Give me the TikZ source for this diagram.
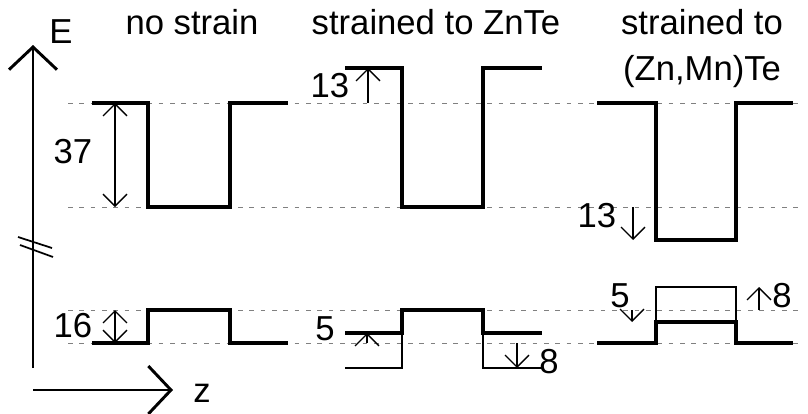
\documentclass[tikz,border=0pt]{standalone}
\usepackage{fontspec}
\setmainfont{Liberation Sans}
\usetikzlibrary{arrows.meta,positioning}

\begin{document}
\begin{tikzpicture}[x=0.75pt, y=-0.75pt]
\tikzstyle{band}=[line width=2.4pt, line join=miter]
\tikzstyle{thinband}=[line width=1pt]
\tikzstyle{level}=[gray, line width=0.7pt, dash pattern=on 3.5pt off 5pt]
\tikzstyle{axis}=[line width=2.2pt, -{Straight Barb[length=17pt, width=36pt]}]
\tikzstyle{dimarrow}=[line width=1pt, -{Straight Barb[length=9pt, width=18pt]}]
\tikzstyle{dimboth}=[line width=1pt, {Straight Barb[length=9pt, width=18pt]}-{Straight Barb[length=9pt, width=18pt]}]
\tikzstyle{lbl}=[anchor=base, inner sep=0pt, font=\fontsize{26}{30}\selectfont]
  \useasboundingbox (0,0) rectangle (808,414);
  % dashed reference levels
  \foreach \y in {103,207,310,343}
    \draw[level] (68,\y) -- (800,\y);
  % axes
  \coordinate (eorig) at (33,368);
  \coordinate (etop) at (33,45);
  \coordinate (zorig) at (33,390);
  \coordinate (zend) at (173,390);
  \path (eorig) edge [axis] (etop)
        (zorig) edge [axis] (zend);
  \draw[line width=1.3pt] (18,237) -- (52,248) (20,245) -- (53,257);
  \node[lbl] (elabel) at (61,43) {E};
  \node[lbl] (zlabel) at (202,402) {z};
  % no strain
  \node[lbl] (title1) at (192,34) {no strain};
  \draw[band] (92,103) -- (148,103) -- (148,207) -- (230,207) -- (230,103) -- (288,103);
  \draw[band] (92,343) -- (148,343) -- (148,310) -- (230,310) -- (230,343) -- (288,343);
  \coordinate (cb1top) at (115,103);
  \coordinate (cb1bot) at (115,207);
  \coordinate (vb1top) at (115,310);
  \coordinate (vb1bot) at (115,343);
  \path (cb1top) edge [dimboth] (cb1bot)
        (vb1top) edge [dimboth] (vb1bot);
  \node[lbl] (gap37) at (73,163) {37};
  \node[lbl] (gap16) at (73,337) {16};
  % strained to ZnTe
  \node[lbl] (title2) at (436,34) {strained to ZnTe};
  \draw[band] (345,68) -- (402,68) -- (402,207) -- (483,207) -- (483,68) -- (542,68);
  \draw[band] (345,333) -- (402,333) -- (402,310) -- (483,310) -- (483,333) -- (542,333);
  \draw[thinband] (345,368) -- (402,368) -- (402,333);
  \draw[thinband] (483,333) -- (483,368) -- (542,368);
  \coordinate (cb2from) at (368,103);
  \coordinate (cb2to) at (368,68);
  \coordinate (hh2from) at (367,343);
  \coordinate (hh2to) at (367,333);
  \coordinate (lh2from) at (517,343);
  \coordinate (lh2to) at (517,368);
  \path (cb2from) edge [dimarrow] (cb2to)
        (hh2from) edge [dimarrow] (hh2to)
        (lh2from) edge [dimarrow] (lh2to);
  \node[lbl] (up13) at (330,97) {13};
  \node[lbl] (up5) at (325,340) {5};
  \node[lbl] (down8) at (549,373) {8};
  % strained to (Zn,Mn)Te
  \node[lbl] (title3) at (702,34) {strained to};
  \node[lbl] (title3b) at (702,80) {(Zn,Mn)Te};
  \draw[band] (597,103) -- (656,103) -- (656,240) -- (736,240) -- (736,103) -- (793,103);
  \draw[band] (597,343) -- (656,343) -- (656,322) -- (736,322) -- (736,343) -- (793,343);
  \draw[thinband] (656,322) -- (656,287) -- (736,287) -- (736,322);
  \coordinate (cb3from) at (633,207);
  \coordinate (cb3to) at (633,240);
  \coordinate (hh3from) at (632,310);
  \coordinate (hh3to) at (632,322);
  \coordinate (lh3from) at (759,310);
  \coordinate (lh3to) at (759,287);
  \path (cb3from) edge [dimarrow] (cb3to)
        (hh3from) edge [dimarrow] (hh3to)
        (lh3from) edge [dimarrow] (lh3to);
  \node[lbl] (down13) at (597,227) {13};
  \node[lbl] (down5) at (620,307) {5};
  \node[lbl] (up8) at (782,307) {8};
\end{tikzpicture}
\end{document}
